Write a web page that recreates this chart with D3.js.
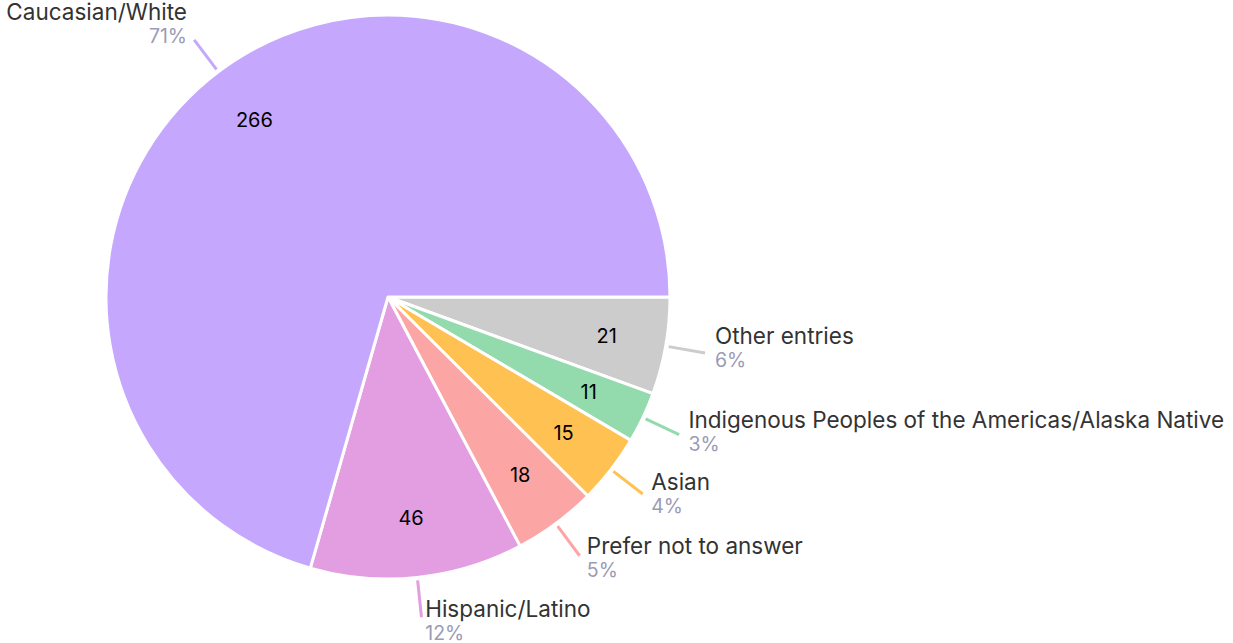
<!DOCTYPE html>
<html>
<head>
<meta charset="utf-8">
<script src="https://cdn.jsdelivr.net/npm/d3@7"></script>
<style>
  html, body { margin: 0; padding: 0; background: #fff; }
  svg { display: block; }
</style>
</head>
<body>
<svg id="chart" width="1233" height="643"></svg>
<script>
const categories = ["Other entries", "Indigenous Peoples of the Americas/Alaska Native", "Asian", "Prefer not to answer", "Hispanic/Latino", "Caucasian/White"];
const values = [21, 11, 15, 18, 46, 266];
const colors = ["#cccccc", "#93dbad", "#ffc152", "#fca5a5", "#e39ee2", "#c5a8fe"];

const W = 1233, H = 643;
const cx = 388, cy = 297, R = 282;
const fontFam = "Inter, 'Open Sans', sans-serif";

const svg = d3.select("#chart");
const g = svg.append("g").attr("transform", `translate(${cx},${cy})`);

const total = d3.sum(values);
const data = categories.map((c, i) => ({ name: c, value: values[i], color: colors[i] }));

const pie = d3.pie().value(d => d.value).sort(null)
  .startAngle(Math.PI / 2).endAngle(Math.PI / 2 + 2 * Math.PI);
const arcs = pie(data);

const arc = d3.arc().innerRadius(0).outerRadius(R);
const labelArc = d3.arc().innerRadius(222).outerRadius(222);

g.selectAll("path.slice").data(arcs).join("path")
  .attr("class", "slice")
  .attr("d", arc)
  .attr("fill", d => d.data.color)
  .attr("stroke", "#fff")
  .attr("stroke-width", 3)
  .attr("stroke-linejoin", "round");

g.selectAll("text.val").data(arcs).join("text")
  .attr("class", "val")
  .attr("transform", d => `translate(${labelArc.centroid(d)})`)
  .attr("text-anchor", "middle")
  .attr("dy", "0.35em")
  .attr("font-family", fontFam)
  .attr("font-size", 20)
  .attr("fill", "#000")
  .text(d => d.data.value);

const r1 = 285, r2 = 322;
const mid = d => (d.startAngle + d.endAngle) / 2;
const pt = (a, r) => [Math.sin(a) * r, -Math.cos(a) * r];

const lab = g.selectAll("g.lab").data(arcs).join("g").attr("class", "lab");
lab.append("line")
  .attr("x1", d => pt(mid(d), r1)[0]).attr("y1", d => pt(mid(d), r1)[1])
  .attr("x2", d => pt(mid(d), r2)[0]).attr("y2", d => pt(mid(d), r2)[1])
  .attr("stroke", d => d.data.color)
  .attr("stroke-width", 3);

lab.each(function(d) {
  const a = mid(d);
  const [ex, ey] = pt(a, r2);
  const right = Math.sin(a) >= 0;
  const gap = 3 + 7 * Math.abs(Math.sin(a));
  const x = right ? ex + gap : ex - gap;
  const yName = ey - 11 - 11 * Math.cos(a);
  const anchor = right ? "start" : "end";
  const sel = d3.select(this);
  sel.append("text")
    .attr("x", x).attr("y", yName)
    .attr("text-anchor", anchor)
    .attr("font-family", fontFam)
    .attr("font-size", 22.5)
    .attr("fill", "#333")
    .text(d.data.name);
  sel.append("text")
    .attr("x", x).attr("y", yName + 23)
    .attr("text-anchor", anchor)
    .attr("font-family", fontFam)
    .attr("font-size", 19.5)
    .attr("fill", "#9b9bb5")
    .text(Math.round(d.data.value / total * 100) + "%");
});
</script>
</body>
</html>
